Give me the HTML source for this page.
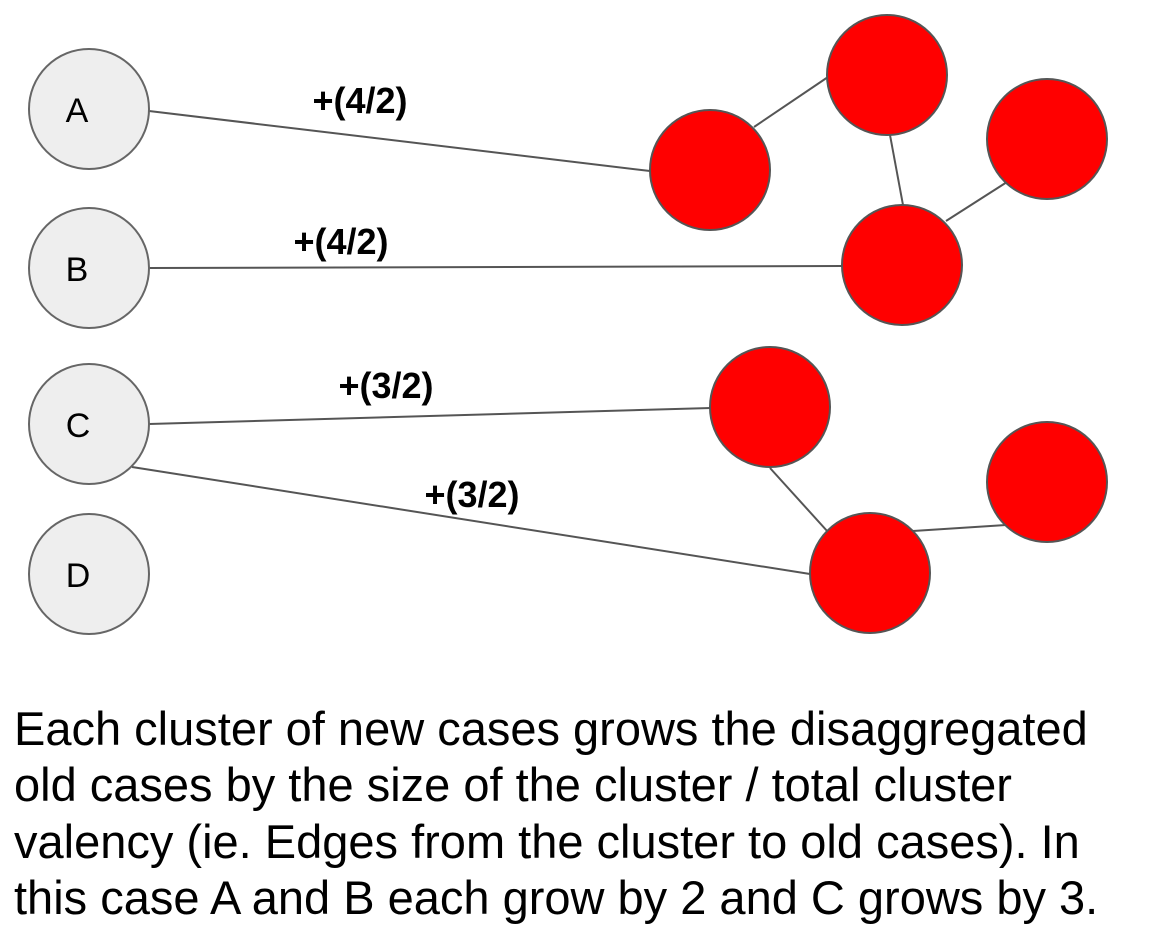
<!DOCTYPE html>
<html><head><meta charset="utf-8"><style>
html,body{margin:0;padding:0;background:#fff;width:1151px;height:952px;overflow:hidden}
svg{display:block}
</style></head><body>
<svg width="1151" height="952" viewBox="0 0 1151 952" xmlns="http://www.w3.org/2000/svg" font-family="Liberation Sans, sans-serif">
<g stroke="#555" stroke-width="2" fill="none">
<line x1="149" y1="111" x2="650" y2="171"/>
<line x1="149" y1="268" x2="842" y2="266"/>
<line x1="149" y1="424" x2="711" y2="408"/>
<line x1="132" y1="467" x2="810" y2="574"/>
<line x1="754" y1="127" x2="828" y2="77"/>
<line x1="890" y1="135" x2="903" y2="205"/>
<line x1="946" y1="221" x2="1007" y2="182"/>
<line x1="770" y1="468" x2="828" y2="532"/>
<line x1="913" y1="531" x2="1006" y2="525"/>
</g>
<g fill="#eeeeee" stroke="#666" stroke-width="2">
<circle cx="89" cy="109" r="60"/>
<circle cx="89" cy="268" r="60"/>
<circle cx="89" cy="424" r="60"/>
<circle cx="89" cy="574" r="60"/>
</g>
<g fill="#ff0000" stroke="#555" stroke-width="2">
<circle cx="710" cy="170" r="60"/>
<circle cx="887" cy="75" r="60"/>
<circle cx="1047" cy="139" r="60"/>
<circle cx="902" cy="265" r="60"/>
<circle cx="770" cy="407" r="60"/>
<circle cx="1047" cy="482" r="60"/>
<circle cx="870" cy="573" r="60"/>
</g>
<g font-size="34" text-anchor="middle" fill="#000">
<text x="77" y="122">A</text>
<text x="77" y="281">B</text>
<text x="78" y="437">C</text>
<text x="78" y="587">D</text>
</g>
<g font-size="36" font-weight="bold" text-anchor="middle" fill="#000">
<text x="360" y="113">+(4/2)</text>
<text x="341" y="254">+(4/2)</text>
<text x="386" y="398">+(3/2)</text>
<text x="472" y="507">+(3/2)</text>
</g>
<g font-size="47" fill="#000">
<text x="14" y="745">Each cluster of new cases grows the disaggregated</text>
<text x="14" y="801">old cases by the size of the cluster / total cluster</text>
<text x="14" y="858">valency (ie. Edges from the cluster to old cases). In</text>
<text x="14" y="914">this case A and B each grow by 2 and C grows by 3.</text>
</g>
</svg>
</body></html>
